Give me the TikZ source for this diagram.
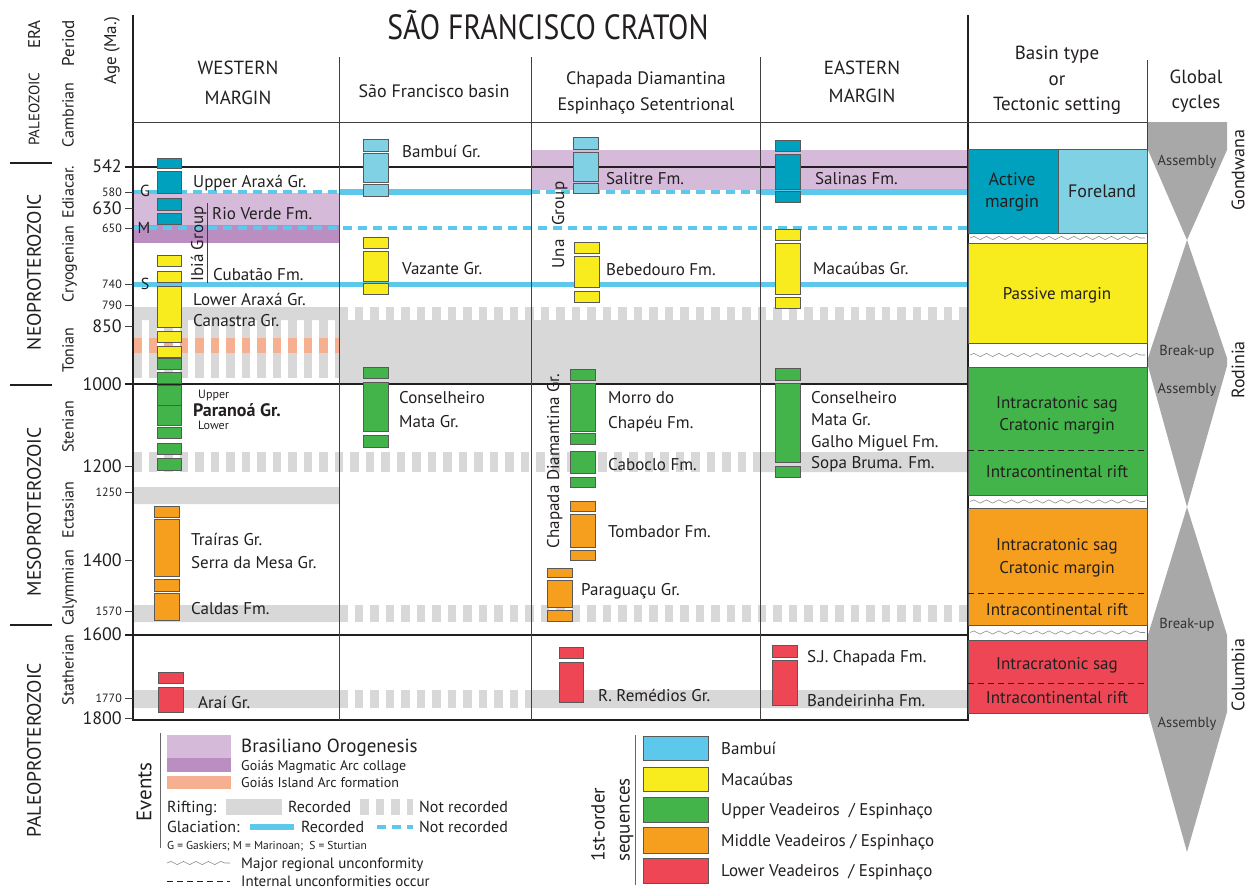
\documentclass[tikz,border=0pt]{standalone}
\usepackage{fontspec}
\setmainfont{PT Sans}
\newfontfamily\titlefont[FakeStretch=0.85]{PT Sans}
\usetikzlibrary{decorations.pathmorphing}

\definecolor{inkc}{RGB}{35,31,32}
\definecolor{tealc}{RGB}{0,161,190}
\definecolor{skyc}{RGB}{128,209,228}
\definecolor{bambc}{RGB}{92,200,235}
\definecolor{yelc}{RGB}{248,236,31}
\definecolor{grnc}{RGB}{67,180,74}
\definecolor{orgc}{RGB}{246,158,30}
\definecolor{redc}{RGB}{238,70,85}
\definecolor{purl}{RGB}{213,186,218}
\definecolor{purd}{RGB}{187,142,193}
\definecolor{salm}{RGB}{247,175,146}
\definecolor{riftc}{RGB}{216,216,216}
\definecolor{glac}{RGB}{92,200,235}
\definecolor{cyclec}{RGB}{168,168,168}

\newcommand\setfs[1]{\fontsize{#1}{#1}\selectfont}

\tikzset{
  tx/.style 2 args={font=\setfs{#1}, text height=#2pt, text depth=0pt, inner sep=0pt},
  lbl/.style={tx={17}{12}, anchor=west},
  small lbl/.style={tx={12}{8.5}, anchor=west},
  vlbl/.style={tx={17}{12}, rotate=90},
  age big/.style={tx={18}{12.5}, anchor=east},
  age small/.style={tx={12}{8.5}, anchor=east},
  blk/.style={draw=black!65, line width=.7pt, fill=#1},
  setbox/.style={draw=black!65, line width=.7pt, fill=#1},
  norec/.style={draw=riftc, line width=#1, dash pattern=on 8.5pt off 7pt},
  glac rec/.style={draw=glac, line width=5.5pt},
  glac norec/.style={draw=glac, line width=4pt, dash pattern=on 9pt off 6pt},
  rule/.style={draw=inkc, line width=1.3pt},
  thin rule/.style={draw=black!75, line width=.8pt},
  unconf/.style={draw=black!45, line width=.6pt, decorate,
    decoration={snake, amplitude=1.6pt, segment length=12.5pt}},
  internal/.style={draw=inkc, line width=.8pt, dash pattern=on 6pt off 4pt},
  cycle lbl/.style={tx={14.5}{10}, text=black!80}
}

\begin{document}
\begin{tikzpicture}[x=1pt, y=-1pt, text=inkc]
\useasboundingbox (0,0) rectangle (1253,891);

% events: orogenesis and rifting bands
\fill[purl] (133,193) rectangle (339,225);
\fill[purd] (133,225) rectangle (339,243);
\fill[purl] (531,150) rectangle (968,190);
\fill[riftc] (133,307) rectangle (339,320)
             (339,320) rectangle (968,383)
             (760,452) rectangle (968,472)
             (133,487) rectangle (339,504)
             (133,605) rectangle (339,622)
             (133,690) rectangle (339,708)
             (531,690) rectangle (968,708);
\draw[norec=58] (133,349) -- (339,349);
\draw[norec=15, draw=salm] (133,345.5) -- (339,345.5);
\draw[norec=13] (339,313.5) -- (968,313.5);
\draw[norec=20] (133,462) -- (760,462);
\draw[norec=17] (339,613.5) -- (968,613.5);
\draw[norec=18] (339,699) -- (531,699);

% glaciations
\draw[glac norec] (133,192) -- (339,192)  (531,192) -- (760,192)
                  (133,228) -- (968,228);
\draw[glac rec] (339,192) -- (531,192)  (760,192) -- (968,192)
                (133,284.5) -- (968,284.5);

% frame
\draw[rule] (133,15) -- (133,720) -- (968,720) -- (968,15);
\draw[rule] (125,167) -- (968,167)  (125,384) -- (968,384)  (125,635) -- (968,635);
\draw[thin rule] (133,122) -- (1147,122);
\foreach \x in {339,531,760}
  \draw[thin rule] (\x,57) -- (\x,720);
\draw[thin rule] (1147,60) -- (1147,713);
\foreach \y in {192,208,228,284,305,326,466,492,560,611,698,718}
  \draw[thin rule] (125,\y) -- (133,\y);
\draw[thin rule] (207,203) -- (207,283);

% western margin columns
\foreach \ya/\yb in {158/168,171/193,198/210,213/224}
  \draw[blk=tealc] (157,\ya) rectangle (181,\yb);
\foreach \ya/\yb in {255/266,271/282,286/327,331/342,346/357}
  \draw[blk=yelc] (157,\ya) rectangle (181,\yb);
\foreach \ya/\yb in {358/369,372/383,385/405,405/425,427/438,443/454,458/470}
  \draw[blk=grnc] (157,\ya) rectangle (181,\yb);
\foreach \ya/\yb in {506/517,519/576,579/591,593/620}
  \draw[blk=orgc] (154,\ya) rectangle (179,\yb);
\foreach \ya/\yb in {672/683,687/712}
  \draw[blk=redc] (158,\ya) rectangle (183,\yb);

% sao francisco basin
\foreach \ya/\yb in {139/151,153/182,184/196}
  \draw[blk=skyc] (363,\ya) rectangle (388,\yb);
\foreach \ya/\yb in {237/248,251/281,283/294}
  \draw[blk=yelc] (363,\ya) rectangle (388,\yb);
\foreach \ya/\yb in {367/378,382/431,435/447}
  \draw[blk=grnc] (363,\ya) rectangle (388,\yb);

% chapada diamantina
\foreach \ya/\yb in {137/149,152/181,183/193}
  \draw[blk=skyc] (573,\ya) rectangle (598,\yb);
\foreach \ya/\yb in {242/253,256/287,291/302}
  \draw[blk=yelc] (574,\ya) rectangle (599,\yb);
\foreach \ya/\yb in {369/380,383/431,433/444,451/473,477/487}
  \draw[blk=grnc] (570,\ya) rectangle (595,\yb);
\foreach \ya/\yb in {501/511,514/547,550/560}
  \draw[blk=orgc] (570,\ya) rectangle (595,\yb);
\foreach \ya/\yb in {568/577,580/607,610/621}
  \draw[blk=orgc] (547,\ya) rectangle (572,\yb);
\foreach \ya/\yb in {647/658,662/702}
  \draw[blk=redc] (559,\ya) rectangle (583,\yb);

% eastern margin
\foreach \ya/\yb in {140/151,154/189,191/202}
  \draw[blk=tealc] (775,\ya) rectangle (800,\yb);
\foreach \ya/\yb in {229/240,243/294,297/308}
  \draw[blk=yelc] (775,\ya) rectangle (800,\yb);
\foreach \ya/\yb in {368/380,383/462,466/477}
  \draw[blk=grnc] (775,\ya) rectangle (800,\yb);
\foreach \ya/\yb in {645/657,660/705}
  \draw[blk=redc] (772,\ya) rectangle (797,\yb);

% basin type
\draw[setbox=tealc] (968,149) rectangle (1058,233);
\draw[setbox=skyc]  (1058,149) rectangle (1147,233);
\draw[setbox=yelc]  (968,243) rectangle (1147,343);
\draw[setbox=grnc]  (968,367) rectangle (1147,495);
\draw[setbox=orgc]  (968,508) rectangle (1147,625);
\draw[setbox=redc]  (968,640) rectangle (1147,713);
\foreach \y in {450,593,683}
  \draw[internal] (968,\y) -- (1147,\y);
\foreach \y in {238,355,501.5,632.5}
  \draw[unconf] (970,\y) -- (1145,\y);

% global cycles
\fill[cyclec] (1148,122) -- (1227,122) -- (1227,150) -- (1187,240) -- (1148,150) -- cycle;
\fill[cyclec] (1187,240) -- (1227,358) -- (1227,366) -- (1187,507)
  -- (1148,366) -- (1148,358) -- cycle;
\fill[cyclec] (1187,507) -- (1227,635) -- (1227,712) -- (1187,852)
  -- (1148,712) -- (1148,635) -- cycle;

% headings
\node[tx={35}{24}, font=\titlefont\setfs{35}] (title) at (548,28) {SÃO FRANCISCO CRATON};
\node[tx={19}{13.5}] (hw1) at (238,68) {WESTERN};
\node[tx={19}{13.5}] (hw2) at (238,98) {MARGIN};
\node[tx={18}{12.6}] (hsf) at (434,91) {São Francisco basin};
\node[tx={18}{12.6}] (hcd1) at (646,78) {Chapada Diamantina};
\node[tx={18}{12.6}] (hcd2) at (646,104) {Espinhaço Setentrional};
\node[tx={19}{13.5}] (he1) at (862,68) {EASTERN};
\node[tx={19}{13.5}] (he2) at (862,96) {MARGIN};
\node[tx={19}{13.5}] (hb1) at (1057,53) {Basin type};
\node[tx={19}{13.5}] (hb2) at (1057,79) {or};
\node[tx={19}{13.5}] (hb3) at (1057,104) {Tectonic setting};
\node[tx={19}{13.5}] (hg1) at (1196,77) {Global};
\node[tx={19}{13.5}] (hg2) at (1196,102) {cycles};

% time scale
\node[vlbl, anchor=east] (era) at (34,20) {ERA};
\node[vlbl, anchor=east] (period) at (68,20) {Period};
\node[vlbl, anchor=east] (agehead) at (110,17) {Age (Ma.)};
\node[tx={15}{10.5}, rotate=90] (paleoz) at (34,109) {PALEOZOIC};
\node[tx={19.5}{13.7}, rotate=90] (neo) at (34,272) {NEOPROTEROZOIC};
\node[tx={19.5}{13.7}, rotate=90] (meso) at (34,512) {MESOPROTEROZOIC};
\node[tx={19.5}{13.7}, rotate=90] (paleop) at (34,750) {PALEOPROTEROZOIC};
\foreach \y in {163,385,625}
  \draw[rule, line width=1.6pt] (10,\y) -- (52,\y);
\foreach \p/\y in {Cambrian/115,Ediacar./192,Cryogenian/264,Tonian/350,
                   Stenian/427,Ectasian/510,Calymmian/588,Statherian/670}
  \node[vlbl, tx={16}{11.2}] (per-\y) at (68,\y) {\p};
\foreach \a/\y in {542/166,630/208,850/326,1000/384,1200/466,1400/560,1600/634,1800/718}
  \node[age big] (age-\a) at (122,\y) {\a};
\foreach \a/\y in {580/192,650/228,740/284,790/305,1250/492,1570/611,1770/698}
  \node[age small] (age-\a) at (122,\y) {\a};

% western margin labels
\node[tx={16}{11.2}] (gG) at (145,191) {G};
\node[tx={16}{11.2}] (gM) at (144,228) {M};
\node[tx={16}{11.2}] (gS) at (145,284) {S};
\node[vlbl] (ibia) at (197,244) {Ibiá Group};
\node[lbl] (w-ua) at (193,181) {Upper Araxá Gr.};
\node[lbl] (w-rv) at (212,213) {Rio Verde Fm.};
\node[lbl] (w-cu) at (213,274) {Cubatão Fm.};
\node[lbl] (w-la) at (193,299) {Lower Araxá Gr.};
\node[lbl] (w-ca) at (193,320) {Canastra Gr.};
\node[small lbl] (w-up) at (198,394) {Upper};
\node[lbl, font=\bfseries\setfs{18}] (w-pa) at (193,410) {Paranoá Gr.};
\node[small lbl] (w-lo) at (198,425) {Lower};
\node[lbl] (w-tr) at (191,539) {Traíras Gr.};
\node[lbl] (w-sm) at (191,562) {Serra da Mesa Gr.};
\node[lbl] (w-cd) at (191,608) {Caldas Fm.};
\node[lbl] (w-ar) at (198,702) {Araí Gr.};

% sao francisco labels
\node[lbl] (sf-ba) at (402,151) {Bambuí Gr.};
\node[lbl] (sf-va) at (402,268) {Vazante Gr.};
\node[lbl] (sf-co) at (399,397) {Conselheiro};
\node[lbl] (sf-ma) at (399,421) {Mata Gr.};

% chapada labels
\node[vlbl] (una) at (558,225) {Una\hspace{14pt}Group};
\node[vlbl] (cdgr) at (553,461) {Chapada Diamantina Gr.};
\node[lbl] (cd-sa) at (606,178) {Salitre Fm.};
\node[lbl] (cd-be) at (606,269) {Bebedouro Fm.};
\node[lbl] (cd-mo) at (608,397) {Morro do};
\node[lbl] (cd-ch) at (608,422) {Chapéu Fm.};
\node[lbl] (cd-cb) at (608,464) {Caboclo Fm.};
\node[lbl] (cd-to) at (608,531) {Tombador Fm.};
\node[lbl] (cd-pa) at (581,589) {Paraguaçu Gr.};
\node[lbl] (cd-rr) at (598,695) {R. Remédios Gr.};

% eastern labels
\node[lbl] (e-sa) at (815,178) {Salinas Fm.};
\node[lbl] (e-mc) at (813,268) {Macaúbas Gr.};
\node[lbl] (e-co) at (811,397) {Conselheiro};
\node[lbl] (e-ma) at (811,419) {Mata Gr.};
\node[lbl] (e-gm) at (811,441) {Galho Miguel Fm.};
\node[lbl] (e-sb) at (811,462) {Sopa Bruma. Fm.};
\node[lbl] (e-sj) at (807,656) {S.J. Chapada Fm.};
\node[lbl] (e-bd) at (807,700) {Bandeirinha Fm.};

% basin type labels
\node[tx={18}{12.6}] (bt-a1) at (1012,179) {Active};
\node[tx={18}{12.6}] (bt-a2) at (1012,201) {margin};
\node[tx={18}{12.6}] (bt-fo) at (1102,191) {Foreland};
\node[tx={17}{12}] (bt-pm) at (1057,293) {Passive margin};
\node[tx={17}{12}] (bt-g1) at (1057,402) {Intracratonic sag};
\node[tx={17}{12}] (bt-g2) at (1057,424) {Cratonic margin};
\node[tx={17}{12}] (bt-g3) at (1057,471) {Intracontinental rift};
\node[tx={17}{12}] (bt-o1) at (1057,544) {Intracratonic sag};
\node[tx={17}{12}] (bt-o2) at (1057,567) {Cratonic margin};
\node[tx={17}{12}] (bt-o3) at (1057,609) {Intracontinental rift};
\node[tx={17}{12}] (bt-r1) at (1057,663) {Intracratonic sag};
\node[tx={17}{12}] (bt-r2) at (1057,697) {Intracontinental rift};

% global cycle labels
\node[cycle lbl] (gc-a1) at (1187,160) {Assembly};
\node[cycle lbl] (gc-b1) at (1187,350) {Break-up};
\node[cycle lbl] (gc-a2) at (1187,388) {Assembly};
\node[cycle lbl] (gc-b2) at (1187,623) {Break-up};
\node[cycle lbl] (gc-a3) at (1187,722) {Assembly};
\node[vlbl, tx={18}{12.6}] (gondwana) at (1238,170) {Gondwana};
\node[vlbl, tx={18}{12.6}] (rodinia) at (1238,370) {Rodinia};
\node[vlbl, tx={18}{12.6}] (columbia) at (1238,675) {Columbia};

% legend: events
\node[vlbl, tx={21}{14.7}] (events) at (144,792) {Events};
\draw[thin rule, draw=black!60] (160,733) -- (160,848);
\fill[purl] (167,735) rectangle (231,758);
\fill[purd] (167,758) rectangle (231,772);
\fill[salm] (167,776) rectangle (231,789);
\node[tx={19}{13.3}, anchor=west] (lg-br) at (241,746) {Brasiliano Orogenesis};
\node[tx={14}{9.8}, anchor=west] (lg-gm) at (241,766) {Goiás Magmatic Arc collage};
\node[tx={14}{9.8}, anchor=west] (lg-gi) at (241,783) {Goiás Island Arc formation};
\node[tx={16}{11.2}, anchor=west] (lg-ri) at (167,807) {Rifting:};
\fill[riftc] (226,799) rectangle (282,815);
\node[tx={16}{11.2}, anchor=west] (lg-r1) at (288,807) {Recorded};
\draw[norec=16] (360,807) -- (413,807);
\node[tx={16}{11.2}, anchor=west] (lg-r2) at (419,807) {Not recorded};
\node[tx={16}{11.2}, anchor=west] (lg-gl) at (167,827) {Glaciation:};
\draw[glac rec] (250,827) -- (294,827);
\node[tx={16}{11.2}, anchor=west] (lg-g1) at (301,827) {Recorded};
\draw[glac norec] (377,827) -- (413,827);
\node[tx={16}{11.2}, anchor=west] (lg-g2) at (419,827) {Not recorded};
\node[tx={11.5}{8}, anchor=west] (lg-gms) at (167,845)
  {G = Gaskiers; M = Marinoan;\ \ S = Sturtian};
\draw[unconf] (167,863) -- (230,863);
\node[tx={15}{10.5}, anchor=west] (lg-mu) at (241,863) {Major regional unconformity};
\draw[internal] (167,881) -- (230,881);
\node[tx={15}{10.5}, anchor=west] (lg-iu) at (241,881) {Internal unconformities occur};

% legend: sequences
\node[vlbl, tx={19}{13.3}, anchor=west] (seq1) at (598,862) {1st-order};
\node[vlbl, tx={19}{13.3}, anchor=west] (seq2) at (623,862) {sequences};
\draw[thin rule, draw=black!60] (635,735) -- (635,885);
\foreach \c/\ya/\yb/\t in {bambc/736/760/{Bambuí}, yelc/767/791/{Macaúbas},
    grnc/797/822/{Upper Veadeiros\ \ / Espinhaço},
    orgc/827/853/{Middle Veadeiros / Espinhaço},
    redc/858/883/{Lower Veadeiros\ \ / Espinhaço}} {
  \draw[setbox=\c] (643,\ya) rectangle (708,\yb);
  \node[lbl] (seq-\ya) at (721,{(\ya+\yb)/2}) {\t};
}
\end{tikzpicture}
\end{document}
